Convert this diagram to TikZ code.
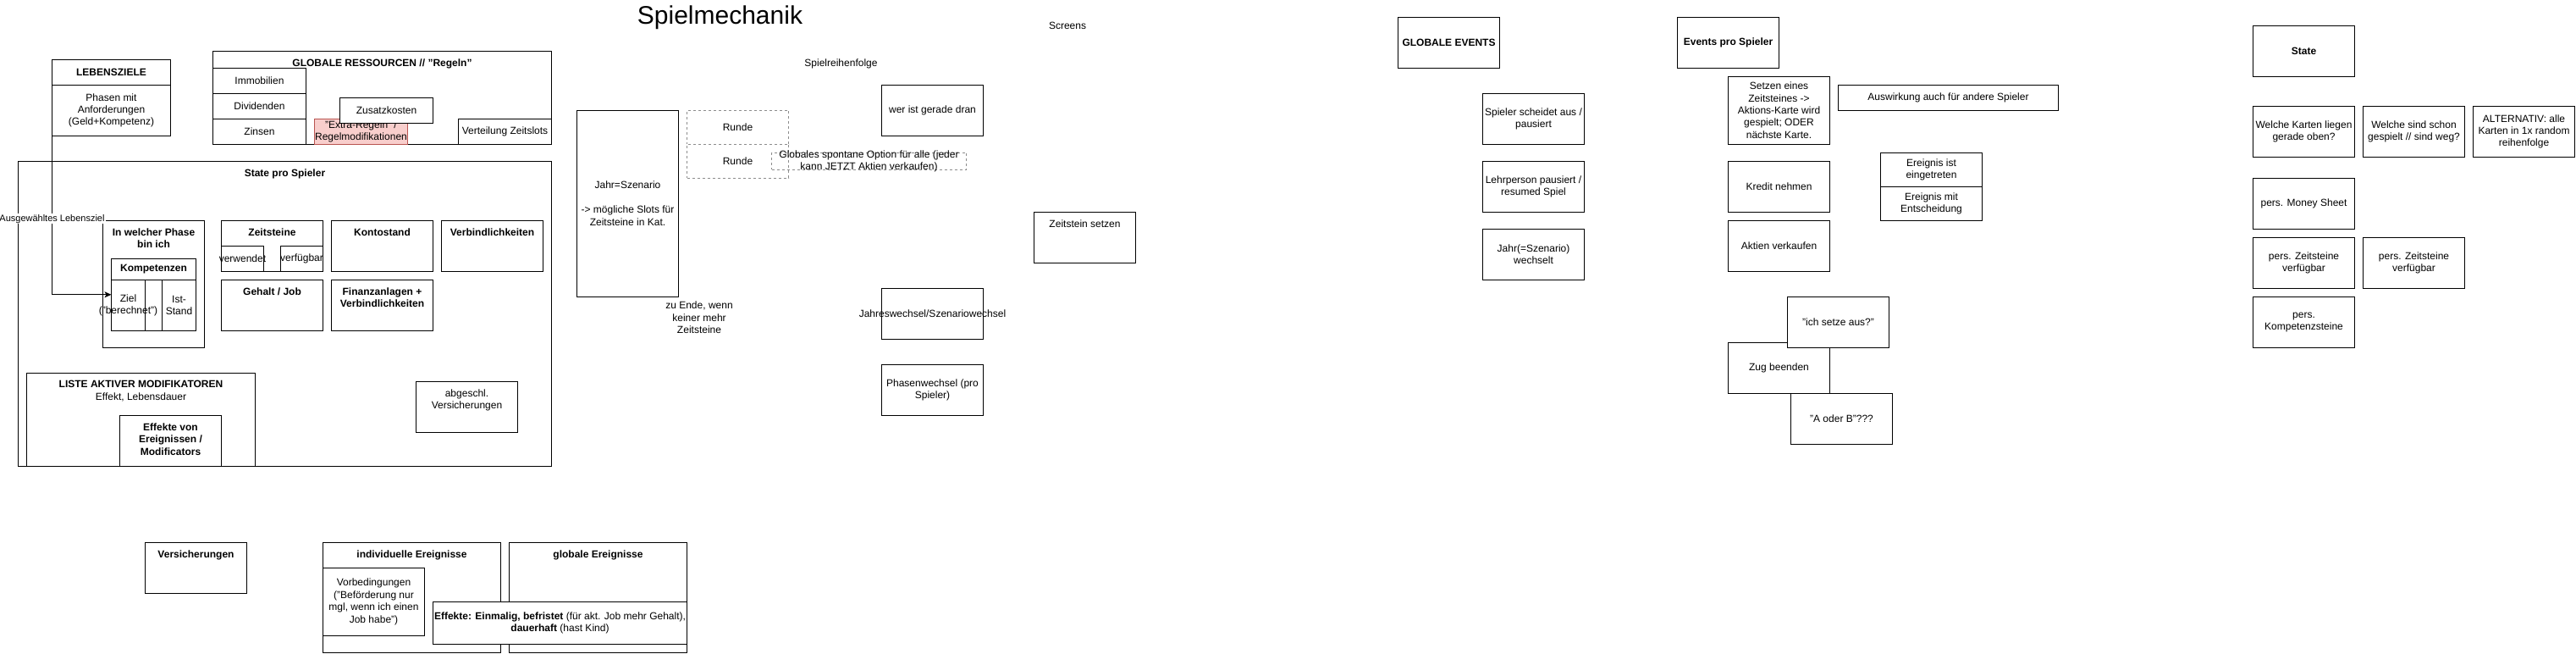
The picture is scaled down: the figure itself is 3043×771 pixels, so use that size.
\documentclass[tikz,border=0pt]{standalone}
\usepackage{fontspec}
\setmainfont{Liberation Sans}
\usetikzlibrary{arrows.meta}
\definecolor{dgray}{HTML}{8C8C8C}
\definecolor{redfill}{HTML}{F8CECC}
\definecolor{redline}{HTML}{B85450}
\newcommand\fsN{\fontsize{12pt}{14.4pt}\selectfont}
\newcommand\fsB{\fontsize{12pt}{14.4pt}\selectfont\bfseries}
\newcommand\Bx[6][]{\node[bx,minimum width=#5pt,minimum height=#6pt,#1] (#2) at (#3,#4) {};}
\tikzset{
  bx/.style={draw=black, fill=white, line width=1pt, inner sep=0pt, outer sep=0pt, anchor=north west},
  dbx/.style={draw=dgray, dash pattern=on 3pt off 3pt},
  redbx/.style={draw=redline, fill=redfill},
  tx/.style={inner sep=0pt, outer sep=0pt, align=center, font=\fsN},
  txb/.style={tx, font=\fsB},
  tt/.style={tx, anchor=north, yshift=-9.3pt},
  ttb/.style={tt, font=\fsB},
  lbl/.style={fill=white, inner sep=1pt, font=\fontsize{11pt}{13pt}\selectfont},
  conn/.style={line width=1pt, -{Stealth[length=8pt,width=7pt,inset=2pt]}}
}
\begin{document}
\begin{tikzpicture}[x=1pt,y=-1pt]
\useasboundingbox (0,0) rectangle (3043,771);
\fill[white] (0,0) rectangle (3043,771);

% title and free texts
\node[tx, font=\fontsize{30pt}{36pt}\selectfont] (title) at (850.5,20.5) {Spielmechanik};
\node[tx] (screens) at (1261,30) {Screens};
\node[tx] (reihenf) at (993.5,75) {Spielreihenfolge};

% LEBENSZIELE
\Bx{lebh}{61.5}{70.3}{140}{30}
\node[txb] (lebh-t) at (lebh.center) {LEBENSZIELE};
\Bx{lebb}{61.5}{100.3}{140}{60}
\node[tx] (lebb-t) at (lebb.center) {Phasen mit\\Anforderungen\\(Geld+Kompetenz)};

% GLOBALE RESSOURCEN
\Bx{glob}{251.5}{60.3}{400}{110}
\node[ttb] (glob-t) at (glob.north) {GLOBALE RESSOURCEN // "Regeln"};
\Bx{immo}{251.5}{80.3}{110}{30}
\node[tx] (immo-t) at (immo.center) {Immobilien};
\Bx{divi}{251.5}{110.3}{110}{30}
\node[tx] (divi-t) at (divi.center) {Dividenden};
\Bx{zins}{251.5}{140.3}{110}{30}
\node[tx] (zins-t) at (zins.center) {Zinsen};
\Bx[redbx]{extra}{371.5}{140.3}{110}{30}
\node[tx] (extra-t) at (extra.center) {"Extra-Regeln" /\\Regelmodifikationen};
\Bx{zusatz}{401.5}{115.3}{110}{30}
\node[tx] (zusatz-t) at (zusatz.center) {Zusatzkosten};
\Bx{vert}{541.5}{140.3}{110}{30}
\node[tx] (vert-t) at (vert.center) {Verteilung Zeitslots};

% State pro Spieler
\Bx{state}{21.5}{190.3}{630}{360}
\node[ttb] (state-t) at (state.north) {State pro Spieler};
\Bx{phase}{121.5}{260.3}{120}{150}
\node[ttb] (phase-t) at (phase.north) {In welcher Phase\\bin ich};
\Bx{komp}{131.5}{305.3}{100}{85}
\Bx{komph}{131.5}{305.3}{100}{25}
\node[txb] (komph-t) at (komph.center) {Kompetenzen};
\Bx{ziel}{131.5}{330.3}{40}{60}
\node[tx] (ziel-t) at (ziel.center) {Ziel\\("berechnet")};
\Bx{ist}{191.5}{330.3}{40}{60}
\node[tx] (ist-t) at (ist.center) {Ist-\\Stand};
\Bx{zst}{261.5}{260.3}{120}{60}
\node[ttb] (zst-t) at (zst.north) {Zeitsteine};
\Bx{verw}{261.5}{290.3}{50}{30}
\node[tx] (verw-t) at (verw.center) {verwendet};
\Bx{verf}{331.5}{290.3}{50}{30}
\node[tx] (verf-t) at (verf.center) {verfügbar};
\Bx{konto}{391.5}{260.3}{120}{60}
\node[ttb] (konto-t) at (konto.north) {Kontostand};
\Bx{verb}{521.5}{260.3}{120}{60}
\node[ttb] (verb-t) at (verb.north) {Verbindlichkeiten};
\Bx{gehalt}{261.5}{330.3}{120}{60}
\node[ttb] (gehalt-t) at (gehalt.north) {Gehalt / Job};
\Bx{finanz}{391.5}{330.3}{120}{60}
\node[ttb] (finanz-t) at (finanz.north) {Finanzanlagen +\\Verbindlichkeiten};
\Bx{liste}{31.5}{440.3}{270}{110}
\node[tt] (liste-t) at (liste.north) {\textbf{LISTE AKTIVER MODIFIKATOREN}\\Effekt, Lebensdauer};
\Bx{effmod}{141.5}{490.3}{120}{60}
\node[ttb] (effmod-t) at (effmod.north) {Effekte von\\Ereignissen /\\Modificators};
\Bx{abg}{491.5}{450.3}{120}{60}
\node[tt] (abg-t) at (abg.north) {abgeschl.\\Versicherungen};

% connector
\draw[conn] (lebb.south west) -- node[lbl, pos=0.523] (lbl1) {Ausgewähltes Lebensziel} (lebb.south west |- komp.west) -- (komp.west);

% bottom
\Bx{vers}{171.5}{640.3}{120}{60}
\node[ttb] (vers-t) at (vers.north) {Versicherungen};
\Bx{indiv}{381.5}{640.3}{210}{130}
\node[ttb] (indiv-t) at (indiv.north) {individuelle Ereignisse};
\Bx{glober}{601.5}{640.3}{210}{130}
\node[ttb] (glober-t) at (glober.north) {globale Ereignisse};
\Bx{vorb}{381.5}{670.3}{120}{80}
\node[tx] (vorb-t) at (vorb.center) {Vorbedingungen\\("Beförderung nur\\mgl, wenn ich einen\\Job habe")};
\Bx{effekte}{511.5}{710.3}{300}{50}
\node[tx] (effekte-t) at (effekte.center) {\textbf{Effekte: Einmalig, befristet} (für akt. Job mehr Gehalt),\\\textbf{dauerhaft} (hast Kind)};

% Spielreihenfolge
\Bx{jahr}{681.5}{130.3}{120}{220}
\node[tx] (jahr-t) at (jahr.center) {Jahr=Szenario\\[14.4pt]-> mögliche Slots für\\Zeitsteine in Kat.};
\Bx[dbx]{runde1}{811.5}{130.3}{120}{40}
\node[tx] (runde1-t) at (runde1.center) {Runde};
\Bx[dbx]{runde2}{811.5}{170.3}{120}{40}
\node[tx] (runde2-t) at (runde2.center) {Runde};
\Bx[dbx, fill=none]{glopt}{911.5}{180.3}{230}{20}
\node[tx] (glopt-t) at (glopt.center) {Globales spontane Option für alle (jeder\\kann JETZT Aktien verkaufen)};
\Bx{wer}{1041.5}{100.3}{120}{60}
\node[tx] (wer-t) at (wer.center) {wer ist gerade dran};
\node[tx] (zuende) at (826,375) {zu Ende, wenn\\keiner mehr\\Zeitsteine};
\Bx{jw}{1041.5}{340.3}{120}{60}
\node[tx] (jw-t) at (jw.center) {Jahreswechsel/Szenariowechsel};
\Bx{pw}{1041.5}{430.3}{120}{60}
\node[tx] (pw-t) at (pw.center) {Phasenwechsel (pro\\Spieler)};
\Bx{zsetzen}{1221.5}{250.3}{120}{60}
\node[tt] (zsetzen-t) at (zsetzen.north) {Zeitstein setzen};

% GLOBALE EVENTS
\Bx{gev}{1651.5}{20.3}{120}{60}
\node[txb] (gev-t) at (gev.center) {GLOBALE EVENTS};
\Bx{sch}{1751.5}{110.3}{120}{60}
\node[tx] (sch-t) at (sch.center) {Spieler scheidet aus /\\pausiert};
\Bx{lehr}{1751.5}{190.3}{120}{60}
\node[tx] (lehr-t) at (lehr.center) {Lehrperson pausiert /\\resumed Spiel};
\Bx{jwech}{1751.5}{270.3}{120}{60}
\node[tx] (jwech-t) at (jwech.center) {Jahr(=Szenario)\\wechselt};

% Events pro Spieler
\Bx{eps}{1981.5}{20.3}{120}{60}
\node[txb] (eps-t) at (eps.center) {Events pro Spieler};
\Bx{setzen}{2041.5}{90.3}{120}{80}
\node[tx] (setzen-t) at (setzen.center) {Setzen eines\\Zeitsteines ->\\Aktions-Karte wird\\gespielt; ODER\\nächste Karte.};
\Bx{ausw}{2171.5}{100.3}{260}{30}
\node[tx] (ausw-t) at (ausw.center) {Auswirkung auch für andere Spieler};
\Bx{kredit}{2041.5}{190.3}{120}{60}
\node[tx] (kredit-t) at (kredit.center) {Kredit nehmen};
\Bx{aktien}{2041.5}{260.3}{120}{60}
\node[tx] (aktien-t) at (aktien.center) {Aktien verkaufen};
\Bx{ereig1}{2221.5}{180.3}{120}{40}
\node[tx] (ereig1-t) at (ereig1.center) {Ereignis ist\\eingetreten};
\Bx{ereig2}{2221.5}{220.3}{120}{40}
\node[tx] (ereig2-t) at (ereig2.center) {Ereignis mit\\Entscheidung};
\Bx{zug}{2041.5}{404.5}{120}{60}
\node[tx] (zug-t) at (zug.center) {Zug beenden};
\Bx{aus}{2111.5}{350.3}{120}{60}
\node[tx] (aus-t) at (aus.center) {"ich setze aus?"};
\Bx{aoderb}{2115.5}{464.5}{120}{60}
\node[tx] (aoderb-t) at (aoderb.center) {"A oder B"???};

% State (right)
\Bx{st}{2661.5}{30.3}{120}{60}
\node[txb] (st-t) at (st.center) {State};
\Bx{welk}{2661.5}{125.3}{120}{60}
\node[tx] (welk-t) at (welk.center) {Welche Karten liegen\\gerade oben?};
\Bx{wels}{2791.5}{125.3}{120}{60}
\node[tx] (wels-t) at (wels.center) {Welche sind schon\\gespielt // sind weg?};
\Bx{alt}{2921.5}{125.3}{120}{60}
\node[tx] (alt-t) at (alt.center) {ALTERNATIV: alle\\Karten in 1x random\\reihenfolge};
\Bx{money}{2661.5}{210.3}{120}{60}
\node[tx] (money-t) at (money.center) {pers. Money Sheet};
\Bx{pz1}{2661.5}{280.3}{120}{60}
\node[tx] (pz1-t) at (pz1.center) {pers. Zeitsteine\\verfügbar};
\Bx{pz2}{2791.5}{280.3}{120}{60}
\node[tx] (pz2-t) at (pz2.center) {pers. Zeitsteine\\verfügbar};
\Bx{pk}{2661.5}{350.3}{120}{60}
\node[tx] (pk-t) at (pk.center) {pers.\\Kompetenzsteine};
\end{tikzpicture}
\end{document}
